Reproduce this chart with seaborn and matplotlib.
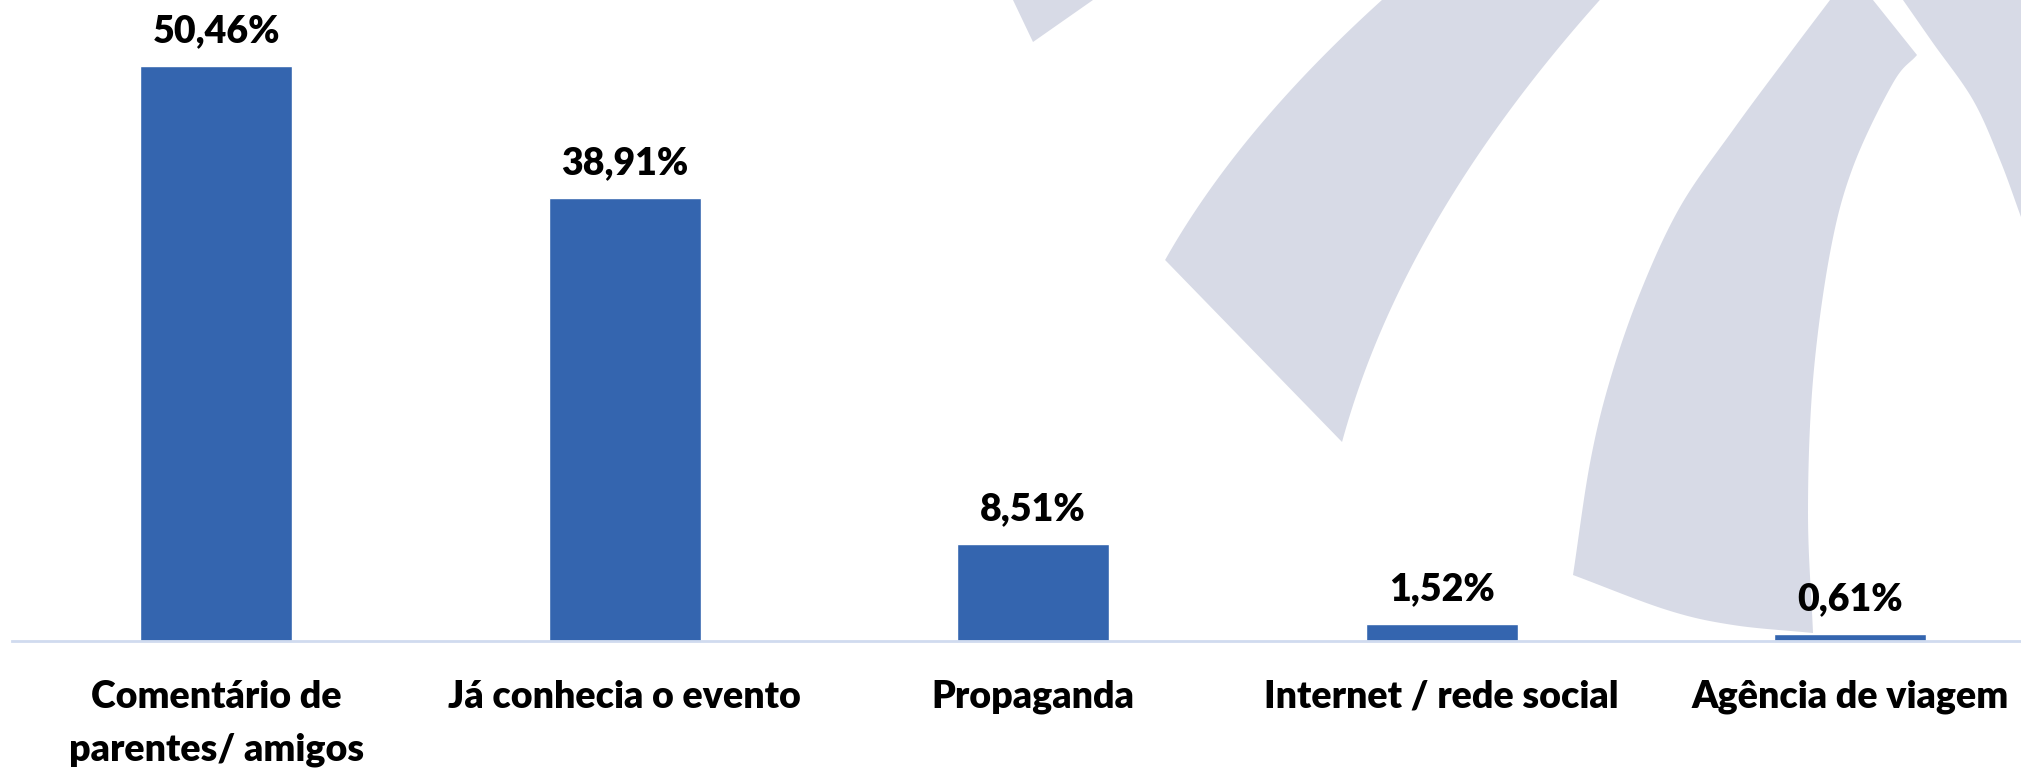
import matplotlib
matplotlib.use("Agg")
import numpy as np
import matplotlib.pyplot as plt
import seaborn as sns
from matplotlib.patches import Polygon

# Dados do gráfico
categorias = ["Comentário de\nparentes/ amigos", "Já conhecia o evento", "Propaganda",
              "Internet / rede social", "Agência de viagem"]
percentuais = [50.46, 38.91, 8.51, 1.52, 0.61]
rotulos = [f"{v:.2f}".replace(".", ",") + "%" for v in percentuais]

cor_barra = "#3465AF"
cor_marca = "#D7DAE6"

sns.set_theme(style="white")
plt.rcParams["font.family"] = ["Lato", "DejaVu Sans"]

W, H = 2021, 768
fig = plt.figure(figsize=(W / 100, H / 100), dpi=100)
fig.patch.set_facecolor("white")


def suaviza(pts, n=16):
    # curva catmull-rom passando pelos pontos
    p = np.array(pts, dtype=float)
    p = np.vstack([2 * p[0] - p[1], p, 2 * p[-1] - p[-2]])
    out = []
    for i in range(1, len(p) - 2):
        p0, p1, p2, p3 = p[i - 1], p[i], p[i + 1], p[i + 2]
        for t in np.linspace(0, 1, n, endpoint=False):
            out.append(0.5 * ((2 * p1) + (-p0 + p2) * t
                              + (2 * p0 - 5 * p1 + 4 * p2 - p3) * t ** 2
                              + (-p0 + 3 * p1 - 3 * p2 + p3) * t ** 3))
    out.append(p[-2])
    return [tuple(q) for q in out]


def borda(pts, grau=2, n=60):
    # borda suave: x como polinomio de y
    p = np.array(pts, dtype=float)
    c = np.polyfit(p[:, 1], p[:, 0], grau)
    ys = np.linspace(p[0, 1], p[-1, 1], n)
    return list(zip(np.polyval(c, ys), ys))


# marca d'agua ao fundo (arcos do logo), em pixels da figura
formas = [
    [(1013, 0), (1033, 42), (1093, 0)],
    borda([(1165, 260), (1200, 207), (1237, 147), (1283, 100), (1330, 53), (1380, 0)])
    + borda([(1600, 0), (1550, 67), (1500, 117), (1467, 160), (1443, 207),
             (1410, 280), (1383, 340), (1338, 442)]),
    suaviza([(1830, 0), (1790, 53), (1733, 130), (1680, 207), (1640, 293), (1610, 380),
             (1590, 463), (1573, 575)])
    + suaviza([(1573, 575), (1667, 610), (1733, 625), (1813, 633)])
    + suaviza([(1813, 633), (1808, 513), (1813, 380), (1830, 253), (1853, 167),
               (1893, 83), (1917, 55)])
    + [(1873, 0)],
    suaviza([(1903, 0), (1933, 43), (1973, 100), (2000, 160), (2021, 217)]) + [(2021, 0)],
]
for pts in formas:
    xy = [(x / W, 1 - y / H) for x, y in pts]
    fig.add_artist(Polygon(xy, closed=True, transform=fig.transFigure,
                           facecolor=cor_marca, edgecolor="none", zorder=-1))

ax = fig.add_axes([12 / W, 1 - 641 / H, 1 - 12 / W, 641 / H])
ax.patch.set_alpha(0)

sns.barplot(x=categorias, y=percentuais, color=cor_barra, saturation=1,
            width=0.372, ax=ax)

for i, (v, txt) in enumerate(zip(percentuais, rotulos)):
    ax.annotate(txt, (i, v), xytext=(0, 25), textcoords="offset points",
                ha="center", va="center", fontsize=27, fontweight="heavy", color="black")

ax.set_xlim(-0.5, 4.4186)
ax.set_ylim(0, 56.25)
ax.set_yticks([])
ax.set_xlabel("")
ax.set_ylabel("")
ax.tick_params(axis="x", length=0, pad=28, labelsize=27)
for lbl in ax.get_xticklabels():
    lbl.set_fontweight("heavy")
    lbl.set_color("black")
    lbl.set_linespacing(1.65)

for s in ["top", "right", "left"]:
    ax.spines[s].set_visible(False)
ax.spines["bottom"].set_color("#D0DBEF")
ax.spines["bottom"].set_linewidth(2)

fig.savefig("out.png", dpi=100, facecolor="white")
